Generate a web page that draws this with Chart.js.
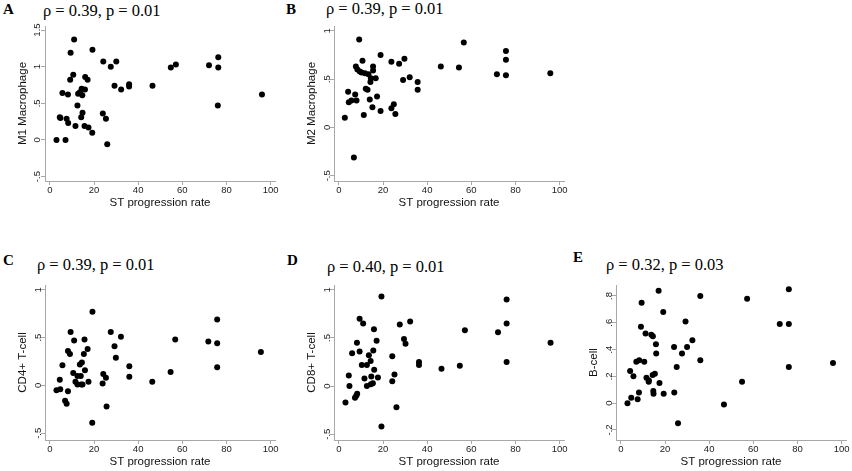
<!DOCTYPE html>
<html>
<head>
<meta charset="utf-8">
<script src="https://cdn.jsdelivr.net/npm/chart.js@4.4.1/dist/chart.umd.min.js"></script>
<style>
  body { margin: 0; width: 852px; height: 471px; overflow: hidden; background: #fff; position: relative; }
  canvas { position: absolute; }
  .letter { position: absolute; font: bold 15px "Liberation Serif", "Times New Roman", serif; line-height: 1; color: #000; }
  .stat { position: absolute; font: 16.5px "Liberation Serif", "Times New Roman", serif; line-height: 1; white-space: nowrap; color: #000; }
</style>
</head>
<body>
<div class="letter" style="left:3px;top:2px">A</div>
<div class="stat" style="left:43px;top:3px">ρ = 0.39, p = 0.01</div>
<div class="letter" style="left:286px;top:2px">B</div>
<div class="stat" style="left:326px;top:1px">ρ = 0.39, p = 0.01</div>
<div class="letter" style="left:3px;top:253px">C</div>
<div class="stat" style="left:37px;top:257px">ρ = 0.39, p = 0.01</div>
<div class="letter" style="left:287px;top:253px">D</div>
<div class="stat" style="left:327px;top:259px">ρ = 0.40, p = 0.01</div>
<div class="letter" style="left:573px;top:250px">E</div>
<div class="stat" style="left:606px;top:257px">ρ = 0.32, p = 0.03</div>

<canvas id="chartA" width="285" height="235" style="left:0px;top:0px"></canvas>
<canvas id="chartB" width="285" height="235" style="left:289px;top:0px"></canvas>
<canvas id="chartC" width="285" height="235" style="left:0px;top:259px"></canvas>
<canvas id="chartD" width="285" height="235" style="left:289px;top:259px"></canvas>
<canvas id="chartE" width="285" height="235" style="left:571px;top:259px"></canvas>

<script>
const xTicks = [0, 20, 40, 60, 80, 100];
const xTitle = 'ST progression rate';

// A: M1 macrophage
const m1X = [3.0, 4.5, 4.8, 5.7, 7.1, 7.6, 8.2, 8.3, 9.2, 9.4, 10.6, 11.0, 11.6, 12.5, 12.8, 13.6, 14.2, 14.4, 14.7, 14.8, 15.7, 15.9, 16.0, 17.1, 17.5, 19.2, 19.3, 24.0, 24.2, 25.4, 26.0, 27.6, 29.3, 30.1, 32.3, 35.9, 35.9, 46.5, 54.8, 57.1, 72.1, 76.3, 76.3, 76.1, 96.1];
const m1Y = [0.0, 0.31, 0.30, 0.64, 0.0, 0.29, 0.62, 0.23, 0.82, 1.19, 0.89, 1.37, 0.19, 0.47, 0.63, 0.65, 0.31, 0.70, 0.61, 0.37, 0.19, 0.69, 0.86, 0.82, 0.17, 0.10, 1.23, 0.36, 1.07, 0.29, -0.06, 1.0, 0.74, 1.07, 0.69, 0.76, 0.73, 0.74, 0.99, 1.03, 1.02, 1.13, 0.99, 0.47, 0.62];
const m1Ticks = [-0.5, 0, 0.5, 1, 1.5];

// B: M2 macrophage
const m2X = [2.7, 4.2, 4.5, 5.7, 6.8, 7.4, 7.7, 8.0, 8.4, 9.2, 9.5, 10.3, 10.7, 11.3, 11.8, 12.2, 13.0, 13.4, 14.0, 14.3, 14.5, 15.2, 15.5, 15.5, 16.7, 17.3, 18.9, 18.9, 23.8, 23.8, 24.9, 25.6, 27.3, 29.1, 29.7, 32.1, 35.7, 35.7, 46.2, 54.4, 56.6, 71.6, 75.7, 75.7, 75.7, 95.8];
const m2Y = [0.10, 0.37, 0.26, 0.28, -0.31, 0.34, 0.63, 0.28, 0.60, 0.91, 0.58, 0.57, 0.69, 0.13, 0.56, 0.40, 0.39, 0.55, 0.29, 0.47, 0.51, 0.21, 0.63, 0.59, 0.51, 0.32, 0.17, 0.75, 0.20, 0.68, 0.24, 0.14, 0.66, 0.49, 0.71, 0.52, 0.47, 0.39, 0.63, 0.62, 0.88, 0.55, 0.54, 0.70, 0.79, 0.56];
const m2Ticks = [-0.5, 0, 0.5, 1];

// C: CD4+ T-cell
const cd4X = [3.0, 4.5, 4.7, 5.7, 6.9, 7.6, 8.2, 8.2, 9.1, 9.4, 10.6, 11.0, 11.6, 12.5, 12.5, 13.6, 14.0, 14.2, 14.5, 14.8, 15.4, 15.7, 15.9, 17.1, 17.5, 19.2, 19.3, 23.9, 24.2, 25.4, 25.7, 27.6, 29.3, 29.9, 32.2, 36.0, 36.0, 46.4, 54.7, 56.8, 71.8, 75.8, 75.8, 75.8, 95.6];
const cd4Y = [-0.05, 0.06, -0.04, 0.21, -0.16, -0.19, -0.06, 0.36, 0.33, 0.56, 0.13, 0.47, 0.04, 0.01, 0.10, 0.22, 0.10, 0.01, 0.24, 0.01, 0.33, 0.48, 0.16, 0.38, 0.04, -0.39, 0.77, 0.02, 0.12, 0.08, -0.22, 0.56, 0.41, 0.29, 0.51, 0.20, 0.09, 0.04, 0.14, 0.48, 0.46, 0.44, 0.69, 0.19, 0.35];
const cd4Ticks = [-0.5, 0, 0.5, 1];

// D: CD8+ T-cell
const cd8X = [3.0, 4.5, 4.8, 6.0, 7.3, 7.9, 8.3, 8.2, 9.4, 9.4, 10.4, 11.0, 11.6, 12.7, 12.7, 13.6, 14.4, 14.5, 14.7, 15.4, 15.6, 15.9, 16.0, 17.1, 17.7, 19.3, 19.3, 24.2, 24.2, 25.2, 26.1, 27.6, 29.5, 30.2, 32.3, 36.3, 36.3, 46.5, 54.8, 57.1, 72.1, 76.0, 76.0, 76.0, 95.9];
const cd8Y = [-0.17, 0.11, 0.00, 0.34, -0.12, -0.10, -0.08, 0.45, 0.70, 0.36, 0.22, 0.65, 0.08, 0.22, 0.00, 0.32, 0.26, 0.02, 0.10, 0.03, 0.37, 0.59, 0.17, 0.47, 0.09, -0.42, 0.93, 0.31, 0.05, 0.12, -0.22, 0.64, 0.49, 0.44, 0.67, 0.25, 0.22, 0.18, 0.21, 0.58, 0.56, 0.90, 0.65, 0.25, 0.45];
const cd8Ticks = [-0.5, 0, 0.5, 1];

// E: B-cell
const bX = [3.0, 4.2, 4.7, 5.7, 7.0, 7.6, 8.2, 8.3, 9.1, 9.4, 10.6, 11.2, 11.6, 12.6, 12.7, 13.8, 14.4, 14.5, 14.7, 14.8, 15.4, 15.9, 16.0, 17.1, 17.5, 19.2, 19.4, 24.1, 24.2, 25.3, 25.9, 27.7, 29.3, 30.0, 32.4, 36.0, 36.0, 46.7, 54.9, 57.2, 72.0, 76.1, 76.1, 76.1, 96.1];
const bY = [0.00, 0.24, 0.04, 0.20, 0.31, 0.03, 0.08, 0.32, 0.57, 0.75, 0.31, 0.52, 0.19, 0.16, 0.17, 0.51, 0.21, 0.50, 0.09, 0.07, 0.22, 0.44, 0.37, 0.84, 0.15, 0.68, 0.07, 0.42, 0.08, 0.27, -0.15, 0.37, 0.61, 0.42, 0.47, 0.80, 0.32, -0.01, 0.16, 0.78, 0.59, 0.85, 0.59, 0.27, 0.30];
const bTicks = [-0.2, 0, 0.2, 0.4, 0.6, 0.8];

const sans = '"Liberation Sans", Arial, Helvetica, sans-serif';
const axisColor = '#a8a8a8';

// stata style labels: .5 instead of 0.5
const stataLabel = (v) => String(v).replace('0.', '.');

function drawPanel(id, xs, ys, yTitle, yMin, yMax, yTicks) {
  const points = xs.map((x, i) => ({ x: x, y: ys[i] }));
  return new Chart(document.getElementById(id), {
    type: 'scatter',
    data: {
      datasets: [{
        data: points,
        backgroundColor: '#000',
        borderWidth: 0,
        pointRadius: 3,
        pointHoverRadius: 3
      }]
    },
    options: {
      responsive: false,
      animation: false,
      layout: { padding: { left: 0, right: 10, top: 26, bottom: 24 } },
      plugins: {
        legend: { display: false },
        tooltip: { enabled: false }
      },
      scales: {
        x: {
          type: 'linear',
          min: -2.2,
          max: 102,
          afterBuildTicks: (axis) => { axis.ticks = xTicks.map(v => ({ value: v })); },
          afterFit: (axis) => { axis.height = 30; },
          border: { color: axisColor, width: 1 },
          grid: { display: true, drawOnChartArea: false, drawTicks: true, tickLength: 4, color: axisColor },
          ticks: { autoSkip: false, maxRotation: 0, padding: 0, color: '#222', font: { family: sans, size: 9.5 } },
          title: { display: true, text: xTitle, color: '#111', font: { family: sans, size: 11.5 }, padding: { top: 0, bottom: 1 } }
        },
        y: {
          type: 'linear',
          min: yMin,
          max: yMax,
          afterBuildTicks: (axis) => { axis.ticks = yTicks.map(v => ({ value: v })); },
          afterFit: (axis) => { axis.width = 45; },
          border: { color: axisColor, width: 1 },
          grid: { display: true, drawOnChartArea: false, drawTicks: true, tickLength: 4, color: axisColor },
          ticks: {
            autoSkip: false,
            minRotation: 90,
            maxRotation: 90,
            crossAlign: 'center',
            padding: -2.5,
            color: '#222',
            font: { family: sans, size: 9.5 },
            callback: (v) => stataLabel(v)
          },
          title: { display: true, text: yTitle, color: '#111', font: { family: sans, size: 11.5 }, padding: { top: 16, bottom: 0 } }
        }
      }
    }
  });
}

drawPanel('chartA', m1X, m1Y, 'M1 Macrophage', -0.56, 1.555, m1Ticks);
drawPanel('chartB', m2X, m2Y, 'M2 Macrophage', -0.554, 1.05, m2Ticks);
drawPanel('chartC', cd4X, cd4Y, 'CD4+ T-cell', -0.57, 1.05, cd4Ticks);
drawPanel('chartD', cd8X, cd8Y, 'CD8+ T-cell', -0.56, 1.05, cd8Ticks);
drawPanel('chartE', bX, bY, 'B-cell', -0.275, 0.882, bTicks);
</script>
</body>
</html>
